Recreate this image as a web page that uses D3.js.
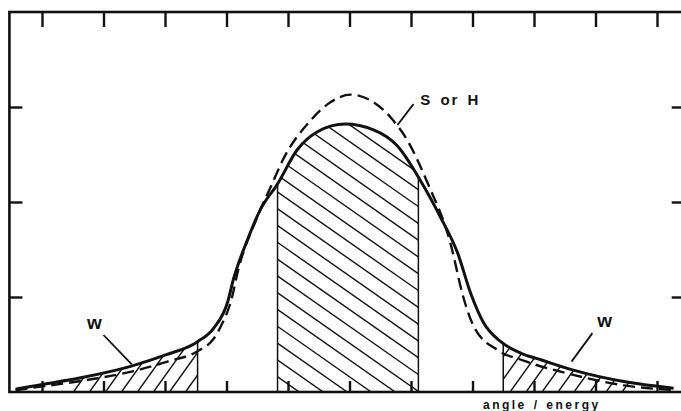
<!DOCTYPE html>
<html>
<head>
<meta charset="utf-8">
<script src="https://cdn.jsdelivr.net/npm/d3@7"></script>
<style>
  body { margin: 0; background: #fff; }
  svg { display: block; }
  text { font-family: "Liberation Sans", Arial, sans-serif; font-weight: bold; fill: #111; }
</style>
</head>
<body>
<div id="chart"></div>
<script>
// solid curve (W, broad wings) and dashed curve (S or H), angle/energy in arbitrary units
var solidX = [-5.43, -4.99, -4.37, -3.56, -2.99, -2.47, -2.21, -1.98, -1.89, -1.66, -1.45, -1.17, -0.85, -0.52, -0.07, 0.39, 0.78, 1.15, 1.48, 1.76, 1.97, 2.18, 2.46, 2.78, 3.11, 3.64, 4.46, 5.27];
var solidY = [0.03, 0.08, 0.15, 0.27, 0.39, 0.53, 0.67, 0.95, 1.18, 1.60, 1.92, 2.19, 2.55, 2.74, 2.82, 2.76, 2.59, 2.23, 1.84, 1.46, 1.04, 0.73, 0.53, 0.41, 0.34, 0.23, 0.11, 0.04];

var dashX = [-5.43, -4.98, -4.33, -3.51, -2.96, -2.47, -2.21, -2.07, -1.93, -1.80, -1.50, -1.28, -1.07, -0.63, -0.31, 0.02, 0.34, 0.67, 0.94, 1.27, 1.64, 1.85, 2.02, 2.41, 2.83, 3.64, 4.46, 5.27];
var dashY = [0.02, 0.06, 0.12, 0.22, 0.32, 0.43, 0.56, 0.72, 0.95, 1.31, 1.84, 2.16, 2.46, 2.86, 3.05, 3.13, 3.07, 2.89, 2.65, 2.20, 1.57, 1.00, 0.69, 0.44, 0.33, 0.18, 0.07, 0.02];

// hatched windows: [from, to] on the angle/energy axis
var wingLeft = [-4.6, -2.47];
var peakWin = [-1.17, 1.12];
var wingRight = [2.50, 4.65];
var boundaries = [-2.47, -1.17, 1.12, 2.50];

var xTicks = [-5, -4, -3, -2, -1, 0, 1, 2, 3, 4, 5];
var yTicks = [1, 2, 3];

const WIDTH = 681, HEIGHT = 411;
var svg = d3.select("#chart").append("svg")
    .attr("width", WIDTH)
    .attr("height", HEIGHT);

var x = d3.scaleLinear().domain([-5, 5]).range([42, 657]);
var y = d3.scaleLinear().domain([0, 4]).range([392, 12]);
var left = x(-5.53), right = x(5.45);

var solid = solidX.map(function(d, i) { return [d, solidY[i]]; });
var dashed = dashX.map(function(d, i) { return [d, dashY[i]]; });

var line = d3.line()
    .x(function(d) { return x(d[0]); })
    .y(function(d) { return y(d[1]); })
    .curve(d3.curveMonotoneX);
var area = d3.area()
    .x(function(d) { return x(d[0]); })
    .y0(y(0))
    .y1(function(d) { return y(d[1]); })
    .curve(d3.curveMonotoneX);

var defs = svg.append("defs");
defs.append("clipPath").attr("id", "under")
    .append("path").attr("d", area(solid));

// hatching, clipped to the area under the solid curve
function hatch(id, win, slope, step) {
    var x0 = x(win[0]), x1 = x(win[1]);
    defs.append("clipPath").attr("id", id)
        .append("rect")
        .attr("x", x0).attr("y", y(4))
        .attr("width", x1 - x0).attr("height", y(0) - y(4));
    var top = y(3.2), bot = y(0);
    var reach = (bot - top) / Math.abs(slope);
    var outer = svg.append("g").attr("clip-path", "url(#under)");
    var g = outer.append("g").attr("clip-path", "url(#" + id + ")");
    var cs = d3.range(x0 - reach, x1 + reach, step);
    g.selectAll("line").data(cs).enter().append("line")
        .attr("x1", function(c) { return c; })
        .attr("y1", bot)
        .attr("x2", function(c) { return c + (top - bot) / slope; })
        .attr("y2", top)
        .attr("stroke", "#111")
        .attr("stroke-width", 1.4);
}
hatch("wl", wingLeft, -1.4, 16);
hatch("pk", peakWin, 0.7, 24);
hatch("wr", wingRight, -1.4, 16);

svg.append("g").attr("clip-path", "url(#under)")
    .selectAll("line").data(boundaries).enter().append("line")
    .attr("x1", function(d) { return x(d); })
    .attr("x2", function(d) { return x(d); })
    .attr("y1", y(0)).attr("y2", y(4))
    .attr("stroke", "#111").attr("stroke-width", 1.5);

svg.append("path").attr("d", line(dashed))
    .attr("fill", "none").attr("stroke", "#111")
    .attr("stroke-width", 2.4).attr("stroke-dasharray", "12,6");
svg.append("path").attr("d", line(solid))
    .attr("fill", "none").attr("stroke", "#111")
    .attr("stroke-width", 3);

// frame and ticks
svg.append("rect")
    .attr("x", left).attr("y", y(4))
    .attr("width", right - left).attr("height", y(0) - y(4))
    .attr("fill", "none").attr("stroke", "#111").attr("stroke-width", 2.6);

function ticks(axis, tx, ty, size) {
    var g = svg.append("g").attr("transform", "translate(" + tx + "," + ty + ")")
        .call(axis.tickSize(size).tickFormat(""));
    g.select(".domain").remove();
    g.selectAll(".tick line").attr("stroke", "#111").attr("stroke-width", 2.4);
}
ticks(d3.axisBottom(x).tickValues(xTicks), 0, y(0), -11);
ticks(d3.axisTop(x).tickValues(xTicks), 0, y(4), -15);
ticks(d3.axisLeft(y).tickValues(yTicks), left, 0, -13);
ticks(d3.axisRight(y).tickValues(yTicks), right, 0, -13);

// labels with leader lines
function leader(a, b) {
    svg.append("line")
        .attr("x1", x(a[0])).attr("y1", y(a[1]))
        .attr("x2", x(b[0])).attr("y2", y(b[1]))
        .attr("stroke", "#111").attr("stroke-width", 1.8);
}
svg.append("text").attr("x", x(1.15)).attr("y", y(3.02))
    .attr("font-size", 15).attr("letter-spacing", 2).attr("word-spacing", 2)
    .text("S or H");
leader([1.04, 3.03], [0.78, 2.81]);

svg.append("text").attr("x", x(-4.15)).attr("y", y(0.66))
    .attr("text-anchor", "middle").attr("font-size", 19).text("w");
leader([-4.0, 0.60], [-3.54, 0.29]);

svg.append("text").attr("x", x(4.15)).attr("y", y(0.68))
    .attr("text-anchor", "middle").attr("font-size", 19).text("w");
leader([3.95, 0.62], [3.61, 0.32]);

svg.append("text").attr("x", x(2.17)).attr("y", 409)
    .attr("font-size", 12).attr("letter-spacing", 2.5).attr("word-spacing", 1)
    .text("angle / energy");
</script>
</body>
</html>
